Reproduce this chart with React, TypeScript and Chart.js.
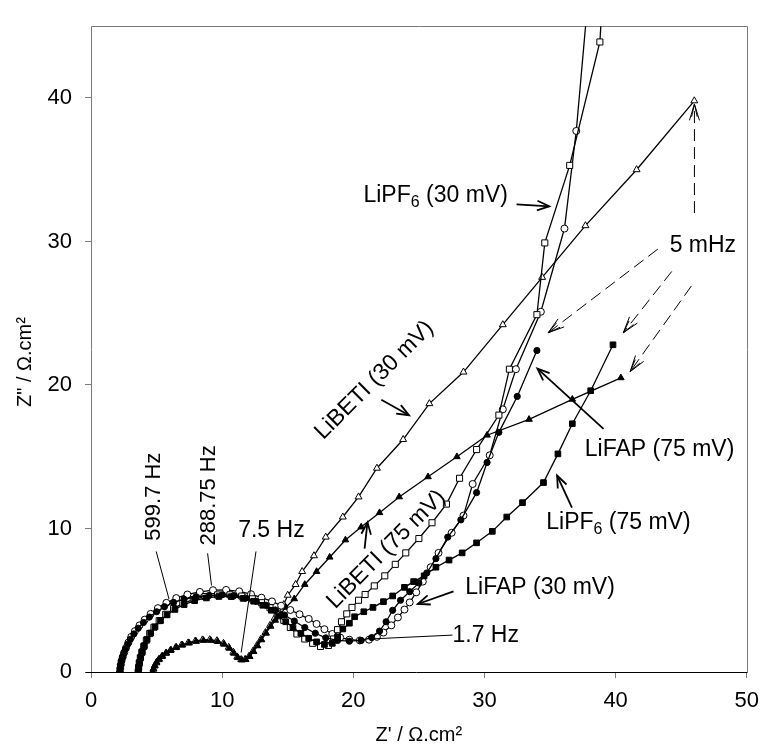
import React, { useEffect, useRef } from "react";
import { Chart, registerables } from "chart.js";

Chart.register(...registerables);

type Pt = [number, number];

const X_TICKS = [0, 10, 20, 30, 40, 50];
const Y_TICKS = [0, 10, 20, 30, 40];

// LiFAP (30 mV) - open circles
const LIFAP_30: Pt[] = [
  [2.2, 0.0], [2.23, 0.25], [2.27, 0.5], [2.33, 0.78], [2.42, 1.05], [2.53, 1.35], [2.67, 1.68],
  [2.85, 2.05], [3.07, 2.45], [3.35, 2.85], [3.7, 3.25], [4.1, 3.65], [4.55, 4.05], [5.1, 4.45],
  [5.75, 4.82], [6.5, 5.15], [7.35, 5.4], [8.3, 5.58], [9.3, 5.7], [10.3, 5.72], [11.3, 5.62],
  [12.2, 5.42], [13.0, 5.18], [13.8, 4.92], [14.5, 4.62], [15.2, 4.32], [15.9, 4.02], [16.6, 3.7],
  [17.2, 3.35], [17.8, 2.98], [18.4, 2.65], [19.0, 2.4], [19.7, 2.25], [20.5, 2.2], [21.2, 2.25],
  [21.8, 2.45], [22.3, 2.75], [22.9, 3.25], [23.4, 3.8], [23.9, 4.35], [24.3, 4.85], [24.8, 5.55],
  [25.3, 6.3], [25.9, 7.3], [26.5, 8.3], [27.5, 9.7], [28.4, 10.9], [29.1, 13.1], [30.4, 15.1],
  [31.4, 18.3], [32.4, 21.1], [34.3, 25.1], [36.1, 30.9], [37.0, 37.7], [38.0, 48.0],
];

// LiFAP (75 mV) - filled circles
const LIFAP_75: Pt[] = [
  [2.2, 0.0], [2.23, 0.25], [2.27, 0.5], [2.32, 0.75], [2.4, 1.02], [2.5, 1.3], [2.63, 1.6],
  [2.8, 1.93], [3.0, 2.28], [3.27, 2.65], [3.6, 3.05], [4.0, 3.45], [4.45, 3.83], [5.0, 4.2],
  [5.6, 4.55], [6.3, 4.85], [7.1, 5.07], [8.0, 5.23], [9.0, 5.33], [10.0, 5.38], [10.9, 5.32],
  [11.8, 5.15], [12.6, 4.92], [13.35, 4.65], [14.05, 4.32], [14.75, 3.97], [15.5, 3.55],
  [16.3, 3.1], [17.1, 2.7], [17.9, 2.38], [18.8, 2.2], [19.7, 2.15], [20.6, 2.2], [21.4, 2.4],
  [22.0, 2.85], [22.5, 3.5], [23.0, 4.3], [23.6, 5.0], [24.3, 5.6], [25.0, 6.2], [25.6, 6.9],
  [26.3, 7.9], [27.2, 9.4], [28.2, 10.6], [29.4, 12.5], [30.2, 14.6], [31.1, 16.7], [32.5, 19.2],
  [34.0, 22.4],
];

// LiPF6 (30 mV) - open squares
const LIPF6_30: Pt[] = [
  [3.6, 0.0], [3.63, 0.3], [3.68, 0.62], [3.76, 0.98], [3.87, 1.36], [4.02, 1.78], [4.22, 2.22],
  [4.48, 2.68], [4.8, 3.12], [5.2, 3.58], [5.7, 4.02], [6.3, 4.42], [7.0, 4.78], [7.8, 5.05],
  [8.7, 5.26], [9.65, 5.37], [10.6, 5.38], [11.5, 5.29], [12.3, 5.1], [13.0, 4.83], [13.65, 4.48],
  [14.2, 4.05], [14.7, 3.6], [15.2, 3.1], [15.7, 2.65], [16.3, 2.3], [16.9, 2.0], [17.5, 1.78],
  [18.1, 1.85], [18.5, 2.3], [18.8, 2.95], [19.1, 3.5], [19.5, 4.05], [19.9, 4.5], [20.4, 5.0],
  [20.9, 5.4], [21.6, 6.0], [22.4, 6.7], [23.2, 7.5], [24.0, 8.3], [25.0, 9.3], [26.0, 10.4],
  [27.1, 11.7], [28.1, 13.5], [29.4, 15.5], [31.1, 17.9], [31.9, 21.1], [34.0, 24.9], [34.6, 29.9],
  [36.5, 35.3], [38.8, 43.9], [39.2, 50.0],
];

// LiPF6 (75 mV) - filled squares
const LIPF6_75: Pt[] = [
  [3.6, 0.0], [3.64, 0.32], [3.7, 0.66], [3.79, 1.03], [3.91, 1.42], [4.07, 1.84], [4.28, 2.27],
  [4.55, 2.72], [4.88, 3.15], [5.3, 3.58], [5.8, 3.98], [6.4, 4.36], [7.1, 4.7], [7.9, 4.97],
  [8.8, 5.16], [9.75, 5.26], [10.7, 5.25], [11.6, 5.13], [12.4, 4.93], [13.1, 4.65], [13.75, 4.3],
  [14.3, 3.9], [14.85, 3.5], [15.4, 3.1], [16.0, 2.7], [16.6, 2.35], [17.2, 2.1], [17.8, 1.92],
  [18.4, 2.0], [18.8, 2.45], [19.2, 3.0], [19.7, 3.4], [20.1, 3.85], [20.8, 4.2], [21.5, 4.5],
  [22.3, 4.9], [23.0, 5.3], [23.9, 5.9], [24.6, 6.3], [25.4, 6.7], [26.3, 7.3], [27.3, 7.8],
  [28.3, 8.3], [29.4, 9.0], [30.6, 9.8], [31.7, 10.8], [32.9, 11.8], [34.5, 13.2], [35.6, 15.2],
  [36.7, 17.3], [38.1, 19.6], [39.8, 22.8],
];

// LiBETI (30 mV) - open triangles
const LIBETI_30: Pt[] = [
  [4.7, 0.0], [4.76, 0.2], [4.85, 0.42], [4.98, 0.64], [5.16, 0.86], [5.4, 1.08], [5.7, 1.3],
  [6.05, 1.5], [6.45, 1.7], [6.9, 1.88], [7.4, 2.03], [7.95, 2.16], [8.5, 2.24], [9.05, 2.25],
  [9.6, 2.18], [10.1, 2.0], [10.5, 1.72], [10.85, 1.38], [11.15, 1.05], [11.45, 0.87], [11.75, 0.88],
  [12.05, 1.1], [12.35, 1.45], [12.65, 1.85], [12.95, 2.28], [13.3, 2.75], [13.65, 3.25],
  [14.0, 3.75], [14.35, 4.2], [14.7, 4.7], [15.0, 5.35], [15.6, 6.1], [16.1, 7.0], [17.0, 8.1],
  [17.9, 9.4], [19.2, 10.8], [20.4, 12.2], [21.8, 14.2], [23.8, 16.2], [25.8, 18.7], [28.4, 20.9],
  [31.4, 24.2], [34.4, 27.5], [37.7, 31.1], [41.6, 35.0], [46.0, 39.8],
];

// LiBETI (75 mV) - filled triangles
const LIBETI_75: Pt[] = [
  [4.7, 0.0], [4.77, 0.22], [4.87, 0.45], [5.01, 0.68], [5.2, 0.9], [5.45, 1.12], [5.75, 1.33],
  [6.1, 1.53], [6.52, 1.72], [6.98, 1.88], [7.48, 2.02], [8.02, 2.13], [8.58, 2.2], [9.13, 2.2],
  [9.66, 2.12], [10.15, 1.93], [10.55, 1.65], [10.9, 1.3], [11.2, 1.0], [11.5, 0.83], [11.8, 0.86],
  [12.1, 1.08], [12.4, 1.42], [12.7, 1.82], [13.0, 2.24], [13.35, 2.7], [13.7, 3.18], [14.05, 3.6],
  [14.4, 4.0], [14.85, 4.5], [15.5, 5.1], [16.3, 6.1], [17.2, 7.0], [18.2, 8.0], [19.4, 9.2],
  [20.6, 10.1], [22.0, 11.1], [23.5, 12.2], [25.7, 13.6], [27.9, 15.0], [30.2, 16.5], [33.4, 17.6],
  [36.7, 19.0], [40.4, 20.5],
];

// Annotation geometry in data units
const SOLID_ARROWS: [Pt, Pt][] = [
  [[32.45, 32.59], [34.94, 32.45]],
  [[22.14, 18.97], [24.25, 17.89]],
  [[20.86, 8.6], [21.08, 10.43]],
  [[27.64, 5.62], [24.92, 4.74]],
  [[39.08, 16.94], [34.04, 21.14]],
  [[36.67, 11.45], [35.54, 13.69]],
];
const LEADERS: [Pt, Pt][] = [
  [[27.56, 2.57], [21.23, 2.3]],
  [[4.97, 8.4], [5.95, 5.08]],
  [[8.89, 8.27], [9.19, 6.03]],
  [[12.58, 8.4], [11.45, 1.36]],
];
const DASHED_ARROWS: [Pt, Pt][] = [
  [[43.22, 29.47], [34.86, 23.64]],
  [[44.28, 27.91], [40.59, 23.64]],
  [[45.78, 26.9], [41.11, 20.93]],
  [[46.01, 31.98], [46.01, 39.57]],
];

type Part = { t: string; sub?: boolean };
type Label = { parts: Part[]; at: Pt; align: "left" | "right" | "center"; rot: number; size: number };
const LABELS: Label[] = [
  { parts: [{ t: "LiPF" }, { t: "6", sub: true }, { t: " (30 mV)" }], at: [31.78, 33.2], align: "right", rot: 0, size: 23 },
  { parts: [{ t: "5 mHz" }], at: [44.12, 29.74], align: "left", rot: 0, size: 23 },
  { parts: [{ t: "LiFAP (75 mV)" }], at: [37.65, 15.51], align: "left", rot: 0, size: 23 },
  { parts: [{ t: "LiPF" }, { t: "6", sub: true }, { t: " (75 mV)" }], at: [34.71, 10.43], align: "left", rot: 0, size: 23 },
  { parts: [{ t: "LiFAP (30 mV)" }], at: [28.54, 5.89], align: "left", rot: 0, size: 23 },
  { parts: [{ t: "1.7 Hz" }], at: [27.56, 2.51], align: "left", rot: 0, size: 23 },
  { parts: [{ t: "7.5 Hz" }], at: [11.22, 9.82], align: "left", rot: 0, size: 23 },
  { parts: [{ t: "599.7 Hz" }], at: [4.82, 9.15], align: "left", rot: -90, size: 22 },
  { parts: [{ t: "288.75 Hz" }], at: [8.96, 8.81], align: "left", rot: -90, size: 22 },
  { parts: [{ t: "LiBETI (30 mV)" }], at: [21.61, 20.33], align: "center", rot: -45, size: 23 },
  { parts: [{ t: "LiBETI (75 mV)" }], at: [22.52, 8.54], align: "center", rot: -45, size: 23 },
];

const FONT = '"Liberation Sans", Arial, Helvetica, sans-serif';
const GRAY = "#7a7a7a";

function toXY(arr: Pt[]) {
  return arr.map(([x, y]) => ({ x, y }));
}

function head(ctx: CanvasRenderingContext2D, x1: number, y1: number, x2: number, y2: number, len: number, ang: number) {
  const a = Math.atan2(y2 - y1, x2 - x1);
  ctx.beginPath();
  ctx.moveTo(x2 - len * Math.cos(a - ang), y2 - len * Math.sin(a - ang));
  ctx.lineTo(x2, y2);
  ctx.lineTo(x2 - len * Math.cos(a + ang), y2 - len * Math.sin(a + ang));
  ctx.stroke();
}

const annotPlugin = {
  id: "annots",
  beforeDatasetsDraw(chart: any) {
    const { ctx, chartArea: ca } = chart;
    ctx.save();
    ctx.lineWidth = 1;
    ctx.strokeStyle = GRAY;
    const t = Math.round(ca.top) + 0.5;
    const r = Math.round(ca.right) + 0.5;
    const b = Math.round(ca.bottom) + 0.5;
    const l = Math.round(ca.left) + 0.5;
    ctx.beginPath();
    ctx.moveTo(l, t);
    ctx.lineTo(r, t);
    ctx.lineTo(r, b);
    ctx.stroke();
    ctx.beginPath();
    ctx.moveTo(l, t);
    ctx.lineTo(l, b);
    ctx.stroke();
    ctx.strokeStyle = "#000";
    ctx.beginPath();
    ctx.moveTo(l - 6, b);
    ctx.lineTo(r, b);
    ctx.stroke();
    ctx.restore();
  },
  afterDatasetsDraw(chart: any) {
    const { ctx, chartArea: ca, scales } = chart;
    const X = (v: number) => scales.x.getPixelForValue(v);
    const Y = (v: number) => scales.y.getPixelForValue(v);
    ctx.save();
    ctx.strokeStyle = "#000";
    ctx.fillStyle = "#000";
    ctx.lineCap = "butt";

    ctx.lineWidth = 1;
    for (const [p, q] of LEADERS) {
      ctx.beginPath();
      ctx.moveTo(X(p[0]), Y(p[1]));
      ctx.lineTo(X(q[0]), Y(q[1]));
      ctx.stroke();
    }
    ctx.lineWidth = 1.8;
    for (const [p, q] of SOLID_ARROWS) {
      const x1 = X(p[0]), y1 = Y(p[1]), x2 = X(q[0]), y2 = Y(q[1]);
      ctx.beginPath();
      ctx.moveTo(x1, y1);
      ctx.lineTo(x2, y2);
      ctx.stroke();
      head(ctx, x1, y1, x2, y2, 13, 0.38);
    }
    ctx.lineWidth = 1;
    for (const [p, q] of DASHED_ARROWS) {
      const x1 = X(p[0]), y1 = Y(p[1]), x2 = X(q[0]), y2 = Y(q[1]);
      ctx.setLineDash([12, 6]);
      ctx.beginPath();
      ctx.moveTo(x1, y1);
      ctx.lineTo(x2, y2);
      ctx.stroke();
      ctx.setLineDash([]);
      head(ctx, x1, y1, x2, y2, 17, 0.3);
      head(ctx, x1, y1, x2, y2, 13, 0.22);
    }

    ctx.textBaseline = "middle";
    for (const lab of LABELS) {
      const mainFont = `${lab.size}px ${FONT}`;
      const subFont = `${Math.round(lab.size * 0.68)}px ${FONT}`;
      const widths = lab.parts.map((p) => {
        ctx.font = p.sub ? subFont : mainFont;
        return ctx.measureText(p.t).width;
      });
      const total = widths.reduce((a, b) => a + b, 0);
      let start = 0;
      if (lab.align === "right") start = -total;
      else if (lab.align === "center") start = -total / 2;
      ctx.save();
      ctx.translate(X(lab.at[0]), Y(lab.at[1]));
      ctx.rotate((lab.rot * Math.PI) / 180);
      ctx.textAlign = "left";
      let cx = start;
      lab.parts.forEach((p, i) => {
        ctx.font = p.sub ? subFont : mainFont;
        ctx.fillText(p.t, cx, p.sub ? lab.size * 0.3 : 0);
        cx += widths[i];
      });
      ctx.restore();
    }

    ctx.font = `20px ${FONT}`;
    ctx.textAlign = "center";
    ctx.textBaseline = "middle";
    ctx.fillText("Z' / \u03A9.cm\u00B2", (ca.left + ca.right) / 2, ca.bottom + 63);
    ctx.save();
    ctx.translate(ca.left - 66, Y(21.6));
    ctx.rotate(-Math.PI / 2);
    ctx.fillText('Z" / \u03A9.cm\u00B2', 0, 0);
    ctx.restore();

    ctx.restore();
  },
};

function ds(label: string, data: Pt[], style: string, filled: boolean, radius: number) {
  return {
    label,
    data: toXY(data),
    showLine: true,
    borderColor: "#000",
    borderWidth: 1.3,
    pointStyle: style,
    pointRadius: radius,
    pointBorderWidth: 1,
    pointBorderColor: "#000",
    pointBackgroundColor: filled ? "#000" : "#fff",
    pointHoverRadius: radius,
    tension: 0,
    fill: false,
  };
}

export default function App() {
  const ref = useRef<HTMLCanvasElement | null>(null);
  useEffect(() => {
    document.body.style.margin = "0";
    const canvas = ref.current;
    if (!canvas) return;
    const tickFont = { family: FONT, size: 22 };
    const chart = new Chart(canvas, {
      type: "scatter",
      data: {
        datasets: [
          ds("LiPF6 (75 mV)", LIPF6_75, "rect", true, 4.0),
          ds("LiFAP (75 mV)", LIFAP_75, "circle", true, 3.1),
          ds("LiPF6 (30 mV)", LIPF6_30, "rect", false, 4.3),
          ds("LiFAP (30 mV)", LIFAP_30, "circle", false, 3.5),
          ds("LiBETI (75 mV)", LIBETI_75, "triangle", true, 3.8),
          ds("LiBETI (30 mV)", LIBETI_30, "triangle", false, 4.0),
        ] as any,
      },
      options: {
        animation: false,
        responsive: false,
        events: [],
        layout: { padding: { left: 0, right: 14, top: 8, bottom: 0 } },
        plugins: { legend: { display: false }, tooltip: { enabled: false }, title: { display: false } },
        scales: {
          x: {
            type: "linear",
            min: 0,
            max: 50,
            afterBuildTicks: (s: any) => {
              s.ticks = X_TICKS.map((v) => ({ value: v }));
            },
            afterFit: (s: any) => {
              s.height = 78;
            },
            grid: { display: true, drawOnChartArea: false, drawTicks: true, tickLength: 6, color: GRAY },
            border: { display: false },
            ticks: { font: tickFont, color: "#000", padding: 10, maxRotation: 0, autoSkip: false },
          },
          y: {
            type: "linear",
            min: 0,
            max: 45,
            afterBuildTicks: (s: any) => {
              s.ticks = Y_TICKS.map((v) => ({ value: v }));
            },
            afterFit: (s: any) => {
              s.width = 91;
            },
            grid: { display: true, drawOnChartArea: false, drawTicks: true, tickLength: 6, color: GRAY },
            border: { display: false },
            ticks: { font: tickFont, color: "#000", padding: 13, autoSkip: false },
          },
        },
      } as any,
      plugins: [annotPlugin as any],
    });
    return () => chart.destroy();
  }, []);
  return (
    <div style={{ width: 769, height: 750 }}>
      <canvas ref={ref} width={769} height={750} style={{ width: 769, height: 750, display: "block" }} />
    </div>
  );
}
